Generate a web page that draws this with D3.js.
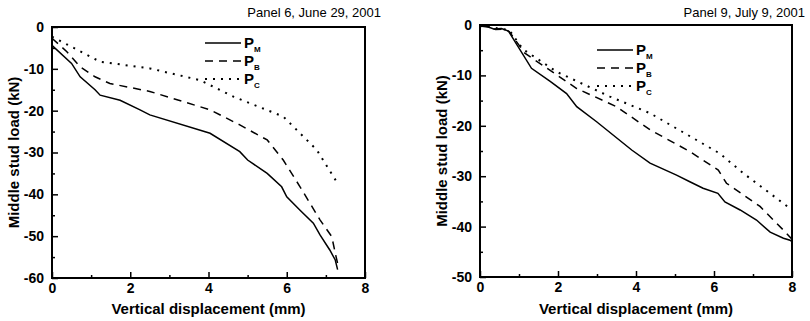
<!DOCTYPE html>
<html>
<head>
<meta charset="utf-8">
<script src="https://cdn.jsdelivr.net/npm/d3@7"></script>
<style>
  body { margin: 0; background: #fff; }
  svg text { font-family: "Liberation Sans", Arial, sans-serif; fill: #000; }
</style>
</head>
<body>
<div id="chart"></div>
<script>
// panel 6 (left)
var p6Title = "Panel 6, June 29, 2001";
var p6_PM = [[0,-4.4],[0.5,-8.7],[0.72,-11.9],[1.1,-15],[1.23,-16.3],[1.74,-17.5],[2.25,-19.8],[2.5,-21],[4.04,-25.4],[4.8,-29.8],[5.0,-31.8],[5.5,-35],[5.87,-38.2],[6.0,-40.6],[6.34,-43.8],[6.68,-46.9],[6.85,-49.7],[7.1,-53.3],[7.24,-55.7],[7.3,-58]];
var p6_PB = [[0,-2.7],[0.38,-5.9],[0.72,-9.5],[1.1,-11.9],[1.48,-13.5],[2.5,-15.4],[4.04,-19.8],[4.8,-23.4],[5.5,-27],[5.91,-31.8],[6.34,-38.2],[6.85,-46.1],[7.15,-50.1],[7.26,-54.9],[7.3,-56.5]];
var p6_PC = [[0,-2.3],[1.23,-8.3],[2.5,-9.9],[3.78,-12.7],[4.65,-16.7],[5.91,-21.4],[6.77,-29.4],[7.3,-37.4]];

// panel 9 (right)
var p9Title = "Panel 9, July 9, 2001";
var p9_PM = [[0,-0.3],[0.15,-0.2],[0.35,-0.8],[0.55,-0.7],[0.73,-1.2],[1.32,-8.6],[1.8,-11.2],[2.22,-13.6],[2.48,-16.2],[2.99,-19.2],[3.89,-24.8],[4.36,-27.4],[5.04,-29.8],[5.38,-31.1],[5.72,-32.4],[6.1,-33.4],[6.28,-35.1],[6.67,-36.7],[7.09,-38.7],[7.44,-41.1],[7.78,-42.3],[7.95,-42.7],[8,-43]];
var p9_PB = [[0,-0.2],[0.2,-0.4],[0.4,-0.9],[0.6,-0.8],[0.75,-1.3],[1.15,-5.6],[1.97,-9.9],[2.48,-12.6],[3.5,-16.2],[4.36,-20.8],[5.38,-25.1],[6.11,-28.8],[6.32,-31.4],[7.18,-36],[7.78,-40.7],[8,-42.5]];
var p9_PC = [[0,-0.1],[0.3,-0.5],[0.75,-1.0],[1.1,-4.8],[1.97,-9.3],[3.33,-14.2],[4.36,-17.5],[6.15,-25.5],[6.75,-29.4],[7.95,-36.4],[8,-36.8]];

var xTicks = [0, 2, 4, 6, 8];

var W = 810, H = 321;
var svg = d3.select("#chart").append("svg")
  .attr("width", W).attr("height", H);

function panel(box, yMin, title, series, legendPos) {
  var x = d3.scaleLinear().domain([0, 8]).range([box.left, box.right]);
  var y = d3.scaleLinear().domain([yMin, 0]).range([box.bottom, box.top]);
  var g = svg.append("g");

  // minor ticks
  var xMinor = d3.range(1, 8, 2);
  var yMinor = d3.range(yMin + 5, 0, 10);

  g.append("g")
    .attr("transform", "translate(0," + box.bottom + ")")
    .call(d3.axisBottom(x).tickValues(xTicks).tickSize(-6).tickPadding(5).tickFormat(d3.format("d")))
    .call(a => a.select(".domain").remove())
    .call(a => a.selectAll("line").attr("stroke-width", 1.5))
    .call(a => a.selectAll("text").attr("font-size", 14).attr("font-weight", "bold"));
  g.append("g")
    .attr("transform", "translate(0," + box.bottom + ")")
    .call(d3.axisBottom(x).tickValues(xMinor).tickSize(-3).tickFormat(""))
    .call(a => a.select(".domain").remove())
    .call(a => a.selectAll("line").attr("stroke-width", 1.5));

  g.append("g")
    .attr("transform", "translate(" + box.left + ",0)")
    .call(d3.axisLeft(y).tickValues(d3.range(yMin, 1, 10)).tickSize(-6).tickPadding(8).tickFormat(d => d3.format("d")(d).replace("\u2212", "-")))
    .call(a => a.select(".domain").remove())
    .call(a => a.selectAll("line").attr("stroke-width", 1.5))
    .call(a => a.selectAll("text").attr("font-size", 14).attr("font-weight", "bold"));
  g.append("g")
    .attr("transform", "translate(" + box.left + ",0)")
    .call(d3.axisLeft(y).tickValues(yMinor).tickSize(-3).tickFormat(""))
    .call(a => a.select(".domain").remove())
    .call(a => a.selectAll("line").attr("stroke-width", 1.5));

  // frame
  g.append("rect")
    .attr("x", box.left).attr("y", box.top)
    .attr("width", box.right - box.left).attr("height", box.bottom - box.top)
    .attr("fill", "none").attr("stroke", "#000").attr("stroke-width", 2);

  var line = d3.line().x(d => x(d[0])).y(d => y(d[1]));
  series.forEach(function(s) {
    g.append("path")
      .datum(s.data)
      .attr("d", line)
      .attr("fill", "none")
      .attr("stroke", "#000")
      .attr("stroke-width", s.width)
      .attr("stroke-dasharray", s.dash);
  });

  // legend
  series.forEach(function(s, i) {
    var ly = legendPos.y + i * 18;
    g.append("line")
      .attr("x1", legendPos.x).attr("x2", legendPos.x + 36)
      .attr("y1", ly).attr("y2", ly)
      .attr("stroke", "#000").attr("stroke-width", s.width)
      .attr("stroke-dasharray", s.dash);
    var t = g.append("text")
      .attr("x", legendPos.x + 39).attr("y", ly + 5)
      .attr("font-size", 15).attr("font-weight", "bold");
    t.append("tspan").text("P");
    t.append("tspan").attr("font-size", 8).attr("dy", 4).text(s.sub);
  });

  // title
  svg.append("text")
    .attr("x", box.right + box.titleDx).attr("y", 17)
    .attr("text-anchor", "end")
    .attr("font-size", 13)
    .text(title);

  // axis labels
  svg.append("text")
    .attr("x", (box.left + box.right) / 2).attr("y", 314)
    .attr("text-anchor", "middle")
    .attr("font-size", 15).attr("font-weight", "bold")
    .text("Vertical displacement (mm)");
  svg.append("text")
    .attr("transform", "translate(" + (box.left - 33) + "," + ((box.top + box.bottom) / 2) + ") rotate(-90)")
    .attr("text-anchor", "middle")
    .attr("font-size", 15).attr("font-weight", "bold")
    .text("Middle stud load (kN)");
}

panel({left: 52, right: 365, top: 27, bottom: 278, titleDx: 16}, -60, p6Title, [
  {data: p6_PM, dash: null, width: 1.5, sub: "M"},
  {data: p6_PB, dash: "8,6", width: 1.5, sub: "B"},
  {data: p6_PC, dash: "2,6", width: 2, sub: "C"}
], {x: 205, y: 43});

panel({left: 480, right: 792, top: 25, bottom: 277, titleDx: 13}, -50, p9Title, [
  {data: p9_PM, dash: null, width: 1.5, sub: "M"},
  {data: p9_PB, dash: "8,6", width: 1.5, sub: "B"},
  {data: p9_PC, dash: "2,6", width: 2, sub: "C"}
], {x: 597, y: 50});
</script>
</body>
</html>
